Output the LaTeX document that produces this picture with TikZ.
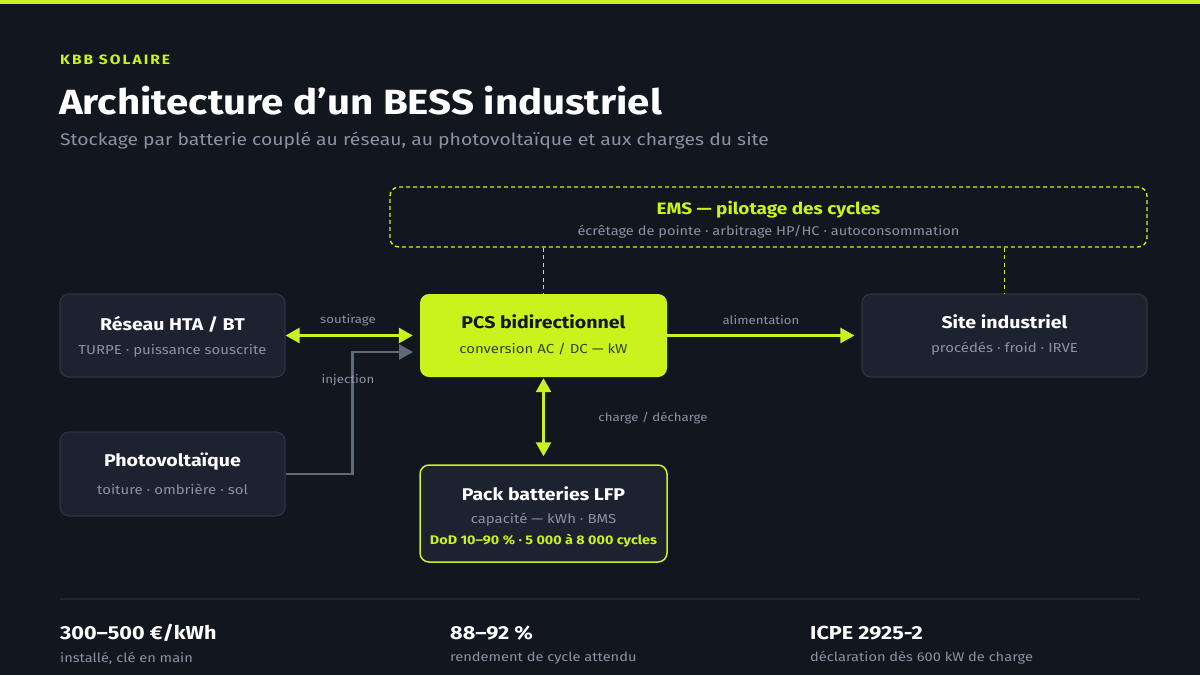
\documentclass[tikz,border=0pt]{standalone}
\usepackage{fontspec}
\setmainfont{Fira Sans}[FakeStretch=1.15]
\usetikzlibrary{arrows.meta}
\definecolor{bg}{HTML}{12161F}
\definecolor{lime}{HTML}{C8F31D}
\definecolor{boxfill}{HTML}{1C2230}
\definecolor{boxline}{HTML}{2C3342}
\definecolor{mute}{HTML}{8A93A3}
\definecolor{injc}{HTML}{5F6B7A}
\definecolor{dark}{HTML}{12161F}
\definecolor{darksub}{HTML}{333F10}
\definecolor{rule}{HTML}{202633}
\tikzset{
  card/.style={draw=boxline, line width=1.2pt, fill=boxfill, rounded corners=9pt, inner sep=0pt},
  pcsbox/.style={fill=lime, rounded corners=9pt, inner sep=0pt},
  batbox/.style={draw=lime, line width=1.5pt, fill=boxfill, rounded corners=9pt, inner sep=0pt},
  emsbox/.style={draw=lime, line width=1.4pt, dash pattern=on 4pt off 3pt, rounded corners=9pt, inner sep=0pt},
  ttl/.style={text=white, font=\fontsize{17}{20}\selectfont\bfseries, inner sep=0pt},
  sub/.style={text=mute, font=\fontsize{13}{16}\selectfont, inner sep=0pt},
  lbl/.style={text=mute, font=\fontsize{11.5}{14}\selectfont, inner sep=0pt},
  limeflow/.style={draw=lime, line width=2.7pt},
  grayflow/.style={draw=injc, line width=2.4pt},
  stat/.style={text=white, font=\fontsize{18.8}{22}\selectfont\bfseries, inner sep=0pt, anchor=west},
  statsub/.style={text=mute, font=\fontsize{12.7}{16}\selectfont, inner sep=0pt, anchor=west},
  emslink/.style={draw=lime, line width=1.6pt, dash pattern=on 4pt off 3.5pt},
}
\begin{document}
\begin{tikzpicture}[x=1pt,y=-1pt,>={Triangle[length=14pt,width=15pt]}]
\useasboundingbox (0,0) rectangle (1200,675);
\fill[bg] (0,0) rectangle (1200,675);
\fill[lime] (0,0) rectangle (1200,4);

% header
\node[anchor=west, inner sep=0pt, text=lime, font=\fontsize{13.5}{15}\selectfont\bfseries\addfontfeatures{LetterSpace=15}] (brand) at (60,60) {KBB SOLAIRE};
\node[anchor=west, inner sep=0pt, text=white, font=\fontsize{35}{40}\selectfont\bfseries] (title) at (59,101) {Architecture d’un BESS industriel};
\node[anchor=west, inner sep=0pt, text=mute, font=\fontsize{16.8}{20}\selectfont] (subtitle) at (60,141) {Stockage par batterie couplé au réseau, au photovoltaïque et aux charges du site};

% EMS
\node[emsbox, minimum width=757pt, minimum height=60pt] (ems) at (768.5,217) {};
\node[text=lime, font=\fontsize{16.5}{19}\selectfont\bfseries, inner sep=0pt] (emst) at (768.5,210) {EMS — pilotage des cycles};
\node[sub, font=\fontsize{12.7}{15}\selectfont] (emss) at (768.5,232) {écrêtage de pointe · arbitrage HP/HC · autoconsommation};

% boxes
\node[card, minimum width=225pt, minimum height=83pt] (reseau) at (172.5,335.5) {};
\node[ttl] (reseaut) at (172.5,324) {Réseau HTA / BT};
\node[sub] (reseaus) at (172.5,351) {TURPE · puissance souscrite};

\node[card, minimum width=225pt, minimum height=84pt] (pv) at (172.5,474) {};
\node[ttl] (pvt) at (172.5,462) {Photovoltaïque};
\node[sub] (pvs) at (172.5,489) {toiture · ombrière · sol};

\node[pcsbox, minimum width=247pt, minimum height=83pt] (pcs) at (543.5,335.5) {};
\node[ttl, text=dark] (pcst) at (543.5,322) {PCS bidirectionnel};
\node[sub, text=darksub] (pcss) at (543.5,349) {conversion AC / DC — kW};

\node[batbox, minimum width=247pt, minimum height=97pt] (bat) at (543.5,513.5) {};
\node[ttl] (batt) at (543.5,494) {Pack batteries LFP};
\node[sub] (bats) at (543.5,520) {capacité — kWh · BMS};
\node[sub, text=lime, font=\fontsize{12.5}{15}\selectfont\bfseries] (batl) at (543.5,541) {DoD 10–90 \% · 5 000 à 8 000 cycles};

\node[card, minimum width=285pt, minimum height=83pt] (site) at (1004.5,335.5) {};
\node[ttl] (sitet) at (1004.5,322) {Site industriel};
\node[sub] (sites) at (1004.5,349) {procédés · froid · IRVE};

% EMS links
\draw[emslink] (ems.south -| pcs.north) -- (pcs.north);
\draw[emslink] (ems.south -| site.north) -- (site.north);

% connectors
\draw[limeflow, <->, shorten >=7pt] (reseau.east) -- (pcs.west);
\node[lbl] (lsout) at (348,320) {soutirage};

\coordinate (injend) at (413,352);
\draw[grayflow, ->] (pv.east) -- ++(67,0) |- (injend);
\node[lbl] (linj) at (348,380) {injection};

\draw[limeflow, ->, shorten >=7pt] (pcs.east) -- (site.west);
\node[lbl] (lalim) at (761,320) {alimentation};

\draw[limeflow, <->, shorten <=1pt, shorten >=8pt] (pcs.south) -- (bat.north);
\node[lbl] (lcharge) at (653,418) {charge / décharge};

% bottom stats
\draw[rule, line width=1.2pt] (60,599) coordinate (r1) -- (1140,599) coordinate (r2);
\node[stat] (s1) at (60,633) {300–500 €/kWh};
\node[statsub] (s1s) at (60,658) {installé, clé en main};
\node[stat] (s2) at (450,633) {88–92 \%};
\node[statsub] (s2s) at (450,658) {rendement de cycle attendu};
\node[stat] (s3) at (810,633) {ICPE 2925-2};
\node[statsub] (s3s) at (810,658) {déclaration dès 600 kW de charge};
\end{tikzpicture}
\end{document}
